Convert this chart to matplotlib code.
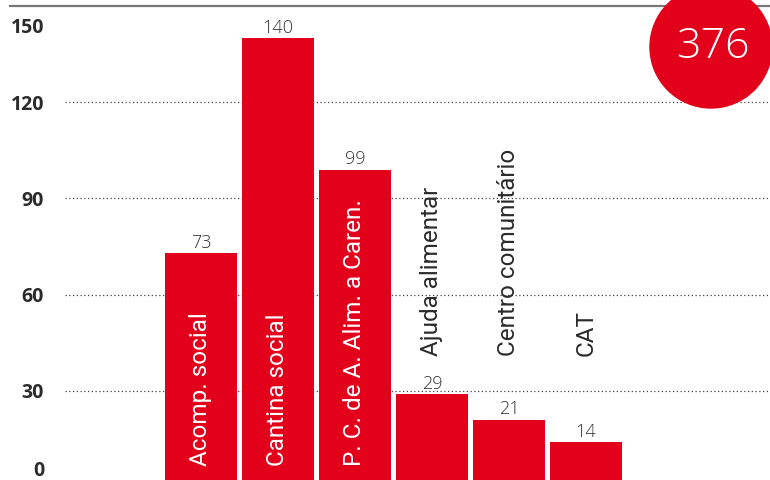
import matplotlib
matplotlib.use("Agg")
import matplotlib.pyplot as plt
from matplotlib.patches import Circle
from matplotlib.lines import Line2D
from matplotlib.transforms import ScaledTranslation

categories = ["Acomp. social", "Cantina social", "P. C. de A. Alim. a Caren.",
              "Ajuda alimentar", "Centro comunitário", "CAT"]
values = [73, 140, 99, 29, 21, 14]
ticks = [0, 30, 60, 90, 120, 150]

RED = "#E2001A"
DARK = "#2b2b2b"
NARROW = ["Roboto", "DejaVu Sans"]

fig = plt.figure(figsize=(7.7, 4.8), dpi=100)
# baseline sits a few pixels below the bottom edge, so the bars run off the page
ax = fig.add_axes([65 / 770, -7 / 480, 705 / 770, 481 / 480])

x = list(range(len(values)))
bars = ax.bar(x, values, width=0.945, color=RED, zorder=2)

# dotted guides for the inner ticks, plain top rule for the max
ax.set_yticks(ticks)
ax.set_yticklabels([str(t) for t in ticks], fontfamily="Open Sans",
                   fontweight="bold", fontsize=14, color=DARK)
ax.set_xlim(-1.766, 7.39)
ax.set_ylim(0, 150)
ax.tick_params(axis="y", length=0, pad=15)
ax.tick_params(axis="x", bottom=False, labelbottom=False)
for t in ticks[1:-1]:
    ax.axhline(t, color="#444444", linestyle=(0, (1, 2)), linewidth=0.9, zorder=1)
for s in ax.spines.values():
    s.set_visible(False)

# nudge the end labels inside the frame
for lbl in ax.get_yticklabels():
    if lbl.get_text() == "150":
        lbl.set_transform(lbl.get_transform() + ScaledTranslation(0, -0.20, fig.dpi_scale_trans))
    elif lbl.get_text() == "0":
        lbl.set_transform(lbl.get_transform() + ScaledTranslation(0, 0.19, fig.dpi_scale_trans))

fig.add_artist(Line2D([10 / 770, 1], [1 - 6 / 480, 1 - 6 / 480], color="#777777",
                      linewidth=1.6, transform=fig.transFigure))

# value labels and rotated category names
for b, v, name in zip(bars, values, categories):
    cx = b.get_x() + b.get_width() / 2
    ax.annotate(str(v), (cx, v), xytext=(0, 1), textcoords="offset points",
                ha="center", va="bottom", fontsize=13, color="#333333",
                fontfamily="Open Sans", fontweight="light")
    if v > 60:
        ax.annotate(name, (cx, 0), xytext=(0, 15), textcoords="offset points",
                    rotation=90, ha="center", va="bottom", fontsize=17.5,
                    color="white", family=NARROW, zorder=3)
    else:
        ax.annotate(name, (cx, 41), xytext=(0, 0), textcoords="offset points",
                    rotation=90, ha="center", va="bottom", fontsize=17.5,
                    color=DARK, family=NARROW, zorder=3)

# total badge
badge = Circle((7.11, 4.33), 0.61, color=RED, transform=fig.dpi_scale_trans, zorder=5)
fig.add_artist(badge)
fig.text(7.13 / 7.7, 4.33 / 4.8, str(sum(values)), ha="center", va="center",
         fontsize=31, color="white", fontfamily="Open Sans", fontweight="light", zorder=6)

fig.savefig("out.png", dpi=100)
